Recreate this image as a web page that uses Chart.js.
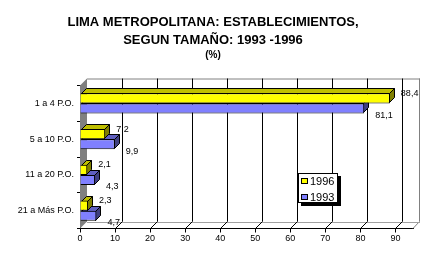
<!DOCTYPE html>
<html><head><meta charset="utf-8">
<script src="https://cdn.jsdelivr.net/npm/chart.js@4/dist/chart.umd.min.js"></script>
<style>html,body{margin:0;padding:0;background:#fff}</style>
</head><body>
<canvas id="c" width="426" height="255"></canvas>
<script>
const categories = ['1 a 4 P.O.', '5 a 10 P.O.', '11 a 20 P.O.', '21 a Más P.O.'];
const seriesNames = ['1996', '1993'];
const values1996 = [88.4, 7.2, 2.1, 2.3];
const values1993 = [81.1, 9.9, 4.3, 4.7];
const xTickValues = [0, 10, 20, 30, 40, 50, 60, 70, 80, 90];
const titleLines = ['LIMA METROPOLITANA: ESTABLECIMIENTOS,', 'SEGUN TAMAÑO: 1993 -1996'];
const subtitleText = '(%)';

const FONT = "'Liberation Sans', Arial, sans-serif";
const WALL = 7;   // depth of the 3D walls
const DEPTH = 5;  // depth of the 3D bars

const colors = [
  {front: '#FFFF00', top: '#C0C000', side: '#808000'},
  {front: '#8080FF', top: '#6060C0', side: '#404080'}
];

function fmt(v) { return String(v).replace('.', ','); }

const threeD = {
  id: 'threeD',
  beforeDatasetsDraw(chart) {
    const ctx = chart.ctx, a = chart.chartArea, xs = chart.scales.x;
    const L = a.left, R = a.right, T = a.top, B = a.bottom, D = WALL;
    ctx.save();
    ctx.lineWidth = 1;
    // left wall (gray)
    ctx.fillStyle = '#808080';
    ctx.beginPath();
    ctx.moveTo(L, T); ctx.lineTo(L + D, T - D); ctx.lineTo(L + D, B - D); ctx.lineTo(L, B);
    ctx.closePath(); ctx.fill();
    // back wall outline
    ctx.strokeStyle = '#808080';
    ctx.beginPath();
    ctx.moveTo(L + D, T - D + 0.5); ctx.lineTo(R + D, T - D + 0.5);
    ctx.moveTo(Math.round(R + D) - 0.5, T - D); ctx.lineTo(Math.round(R + D) - 0.5, B - D);
    ctx.lineTo(R, B);
    ctx.stroke();
    ctx.strokeStyle = '#A0A0A0';
    ctx.beginPath();
    ctx.moveTo(L + D, Math.round(B - D) + 0.5); ctx.lineTo(R + D, Math.round(B - D) + 0.5);
    ctx.stroke();
    // grid lines on the back wall and floor
    ctx.strokeStyle = '#000';
    xTickValues.forEach(v => {
      if (v === 0) return;
      const x = Math.round(xs.getPixelForValue(v)) + 0.5;
      ctx.beginPath();
      ctx.moveTo(x + D, T - D); ctx.lineTo(x + D, B - D);
      ctx.lineTo(x, B);
      ctx.stroke();
    });
    ctx.restore();
  },
  beforeDatasetDraw(chart, args) {
    const ctx = chart.ctx, d = DEPTH;
    const c = colors[args.index];
    ctx.save();
    ctx.lineWidth = 1;
    ctx.strokeStyle = '#000';
    args.meta.data.forEach(el => {
      const p = el.getProps(['x', 'y', 'base', 'height'], true);
      const top = Math.round(p.y - p.height / 2) + 0.5, bot = Math.round(p.y + p.height / 2) - 0.5;
      const x0 = Math.round(p.base) + 0.5, x1 = Math.round(p.x) - 0.5;
      // top face
      ctx.fillStyle = c.top;
      ctx.beginPath();
      ctx.moveTo(x0, top); ctx.lineTo(x1, top); ctx.lineTo(x1 + d, top - d); ctx.lineTo(x0 + d, top - d);
      ctx.closePath(); ctx.fill(); ctx.stroke();
      // side face
      ctx.fillStyle = c.side;
      ctx.beginPath();
      ctx.moveTo(x1, top); ctx.lineTo(x1 + d, top - d); ctx.lineTo(x1 + d, bot - d); ctx.lineTo(x1, bot);
      ctx.closePath(); ctx.fill(); ctx.stroke();
    });
    ctx.restore();
  },
  afterDatasetsDraw(chart) {
    const ctx = chart.ctx;
    ctx.save();
    ctx.font = '9px ' + FONT;
    ctx.fillStyle = '#000';
    ctx.textAlign = 'left';
    ctx.textBaseline = 'middle';
    chart.data.datasets.forEach((ds, i) => {
      chart.getDatasetMeta(i).data.forEach((el, j) => {
        const p = el.getProps(['x', 'y', 'height'], true);
        const y = i === 0 ? p.y - p.height / 2 : p.y + 7;
        ctx.fillText(fmt(ds.data[j]), p.x + 11, y);
      });
    });
    // legend box with shadow
    const lx = 298, ly = 173, lw = 40, lh = 30;
    ctx.fillStyle = '#000';
    ctx.fillRect(lx + 3, ly + 3, lw, lh);
    ctx.fillStyle = '#fff';
    ctx.fillRect(lx, ly, lw, lh);
    ctx.strokeStyle = '#000';
    ctx.lineWidth = 1;
    ctx.strokeRect(lx + 0.5, ly + 0.5, lw - 1, lh - 1);
    ctx.font = '11px ' + FONT;
    chart.data.datasets.forEach((ds, i) => {
      const cy = ly + 8 + i * 16;
      ctx.fillStyle = ds.backgroundColor;
      ctx.fillRect(lx + 3, cy - 3, 7, 6);
      ctx.strokeRect(lx + 3.5, cy - 2.5, 6, 5);
      ctx.fillStyle = '#000';
      ctx.fillText(ds.label, lx + 12, cy + 0.5);
    });
    ctx.restore();
  }
};

new Chart(document.getElementById('c'), {
  type: 'bar',
  data: {
    labels: categories,
    datasets: [
      {label: seriesNames[0], data: values1996, backgroundColor: colors[0].front, borderColor: '#000', borderWidth: 1},
      {label: seriesNames[1], data: values1993, backgroundColor: colors[1].front, borderColor: '#000', borderWidth: 1}
    ]
  },
  options: {
    indexAxis: 'y',
    responsive: false,
    animation: false,
    devicePixelRatio: 1,
    categoryPercentage: 0.56,
    barPercentage: 1,
    layout: {padding: {left: 13, right: 13, top: 0, bottom: 0}},
    plugins: {
      legend: {display: false},
      tooltip: {enabled: false},
      title: {
        display: true, text: titleLines, color: '#000',
        font: {family: FONT, size: 13, weight: 'bold', lineHeight: 1.385},
        padding: {top: 13, bottom: 0}
      },
      subtitle: {
        display: true, text: subtitleText, color: '#000',
        font: {family: FONT, size: 10, weight: 'bold', lineHeight: 1.2},
        padding: {top: 0, bottom: 24.5}
      }
    },
    scales: {
      x: {
        type: 'linear', min: 0, max: 95,
        afterBuildTicks: s => { s.ticks = xTickValues.map(v => ({value: v})); },
        afterFit: s => { s.height = 26.5; },
        grid: {drawOnChartArea: false, tickLength: 4, color: '#000'},
        border: {display: true, color: '#000'},
        ticks: {color: '#000', padding: 1, maxRotation: 0, autoSkip: false, font: {family: FONT, size: 9}}
      },
      y: {
        afterFit: s => { s.width = 67; },
        grid: {offset: true, drawOnChartArea: false, tickLength: 3, color: '#000'},
        border: {display: true, color: '#000'},
        ticks: {color: '#000', padding: 3, font: {family: FONT, size: 9}}
      }
    }
  },
  plugins: [threeD]
});
</script>
</body></html>
